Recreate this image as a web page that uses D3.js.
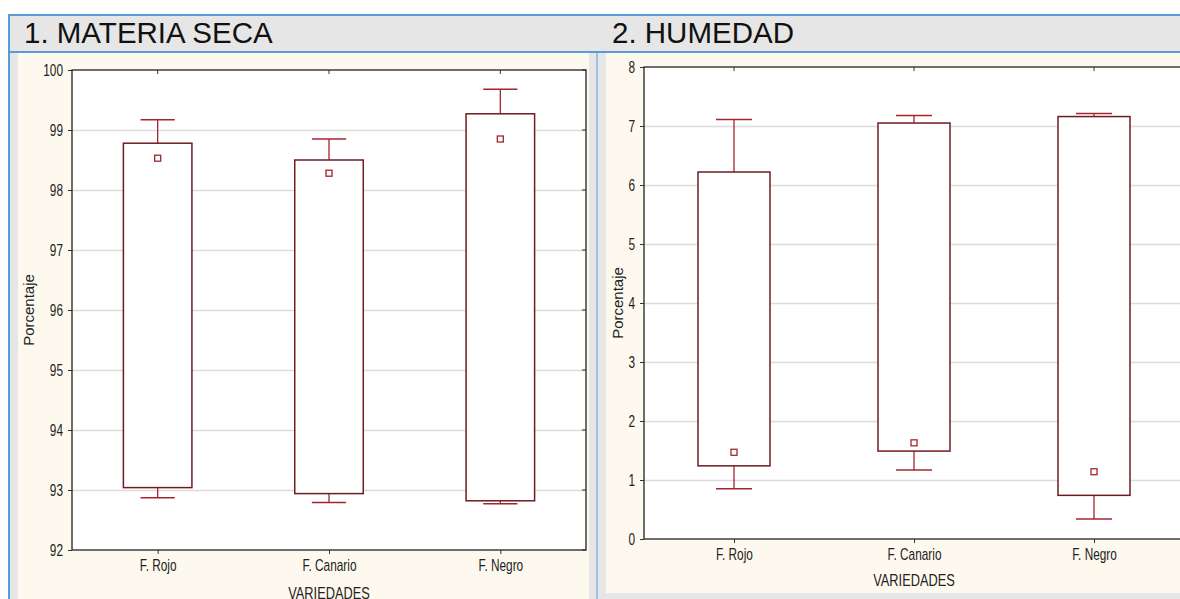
<!DOCTYPE html>
<html>
<head>
<meta charset="utf-8">
<script src="https://cdn.jsdelivr.net/npm/d3@7"></script>
<style>
  body { margin: 0; background: #fff; }
  svg { display: block; }
  .tick text { font-family: "Liberation Sans", Arial, sans-serif; font-size: 16px; fill: #222; }
</style>
</head>
<body>
<script>
// categories shared by both panels
const categories = ["F. Rojo", "F. Canario", "F. Negro"];

// 1. MATERIA SECA (%)
const msWhiskerHigh = [99.17, 98.85, 99.68];
const msBoxHigh     = [98.78, 98.50, 99.27];
const msMean        = [98.53, 98.28, 98.85];
const msBoxLow      = [93.04, 92.94, 92.82];
const msWhiskerLow  = [92.87, 92.79, 92.77];
const msTicks       = [92, 93, 94, 95, 96, 97, 98, 99, 100];

// 2. HUMEDAD (%)
const huWhiskerHigh = [7.11, 7.18, 7.21];
const huBoxHigh     = [6.22, 7.05, 7.16];
const huMean        = [1.47, 1.63, 1.14];
const huBoxLow      = [1.24, 1.49, 0.74];
const huWhiskerLow  = [0.85, 1.17, 0.34];
const huTicks       = [0, 1, 2, 3, 4, 5, 6, 7, 8];

const W = 1180, H = 599;
const svg = d3.select("body").append("svg").attr("width", W).attr("height", H);

svg.append("rect").attr("width", W).attr("height", H).attr("fill", "#fff");
// grey frame + title bar
svg.append("rect").attr("x", 9).attr("y", 15).attr("width", W).attr("height", H)
  .attr("fill", "#e6e6e6").attr("stroke", "#5b9bd5").attr("stroke-width", 2);
svg.append("line").attr("x1", 9).attr("x2", W).attr("y1", 52).attr("y2", 52)
  .attr("stroke", "#5b9bd5").attr("stroke-width", 2);
svg.append("line").attr("x1", 597).attr("x2", 597).attr("y1", 53).attr("y2", H)
  .attr("stroke", "#9fc3e7").attr("stroke-width", 2);

// cream panels
svg.append("rect").attr("x", 18).attr("y", 53).attr("width", 571).attr("height", H - 53).attr("fill", "#fef9ef");
svg.append("rect").attr("x", 606).attr("y", 53).attr("width", W - 606).attr("height", 593 - 53).attr("fill", "#fef9ef");

const titleFont = "'Liberation Sans', Arial, sans-serif";
svg.append("text").attr("x", 24).attr("y", 43).attr("font-family", titleFont)
  .attr("font-size", 29.5).attr("fill", "#111").text("1. MATERIA SECA");
svg.append("text").attr("x", 612).attr("y", 43).attr("font-family", titleFont)
  .attr("font-size", 29.5).attr("fill", "#111").text("2. HUMEDAD");

function narrowText(sel, k) {
  // squeeze horizontally around the text's own x anchor (no Arial Narrow here)
  sel.each(function () {
    const t = d3.select(this);
    const x = +t.attr("x") || 0;
    t.attr("x", x / k).attr("transform", `scale(${k},1)`);
  });
}

function drawPanel(o) {
  const g = svg.append("g");
  const x = d3.scalePoint().domain(categories).range([o.x0, o.x1]).padding(0.5);
  const y = d3.scaleLinear().domain(o.domain).range([o.y1, o.y0]);
  const step = x.step();
  const bw = step * 0.4, cw = step * 0.2;

  g.append("rect").attr("x", o.x0).attr("y", o.y0).attr("width", o.x1 - o.x0).attr("height", o.y1 - o.y0)
    .attr("fill", "#fff");

  // grid
  g.selectAll(".grid").data(o.ticks.slice(1, -1)).join("line")
    .attr("x1", o.x0).attr("x2", o.x1)
    .attr("y1", d => y(d) + 0.5).attr("y2", d => y(d) + 0.5)
    .attr("stroke", "#dcdcdc").attr("stroke-width", 1.5);

  // y axis
  const ya = g.append("g").attr("transform", `translate(${o.x0},0)`)
    .call(d3.axisLeft(y).tickValues(o.ticks).tickSize(4).tickPadding(5).tickFormat(d3.format("d")));
  ya.select(".domain").remove();
  ya.selectAll(".tick line").attr("stroke", "#333");
  ya.selectAll(".tick text").call(narrowText, 0.74);

  // right-edge ticks
  g.selectAll(".rt").data(o.ticks).join("line")
    .attr("x1", o.x1 - 4).attr("x2", o.x1)
    .attr("y1", d => y(d)).attr("y2", d => y(d)).attr("stroke", "#333");

  // x axis
  const xa = g.append("g").attr("transform", `translate(0,${o.y1})`)
    .call(d3.axisBottom(x).tickSize(4).tickPadding(6));
  xa.select(".domain").remove();
  xa.selectAll(".tick line").attr("stroke", "#333");
  xa.selectAll(".tick text").call(narrowText, 0.74);
  g.selectAll(".tt").data(categories).join("line")
    .attr("x1", d => x(d)).attr("x2", d => x(d))
    .attr("y1", o.y0).attr("y2", o.y0 + 4).attr("stroke", "#333");

  // frame
  g.append("rect").attr("x", o.x0).attr("y", o.y0).attr("width", o.x1 - o.x0).attr("height", o.y1 - o.y0)
    .attr("fill", "none").attr("stroke", "#222").attr("stroke-width", 1.3);

  const whiskerColor = "#a3262c", boxColor = "#6e1c22";
  categories.forEach((c, i) => {
    const cx = x(c);
    // whiskers
    [[o.boxHigh[i], o.whHigh[i]], [o.boxLow[i], o.whLow[i]]].forEach(([a, b]) => {
      g.append("line").attr("x1", cx).attr("x2", cx).attr("y1", y(a)).attr("y2", y(b))
        .attr("stroke", whiskerColor).attr("stroke-width", 1.3);
      g.append("line").attr("x1", cx - cw / 2).attr("x2", cx + cw / 2).attr("y1", y(b)).attr("y2", y(b))
        .attr("stroke", whiskerColor).attr("stroke-width", 1.5);
    });
    // box
    g.append("rect").attr("x", cx - bw / 2).attr("y", y(o.boxHigh[i]))
      .attr("width", bw).attr("height", y(o.boxLow[i]) - y(o.boxHigh[i]))
      .attr("fill", "#fff").attr("stroke", boxColor).attr("stroke-width", 1.5);
    // mean marker
    g.append("rect").attr("x", cx - 3).attr("y", y(o.mean[i]) - 3).attr("width", 6).attr("height", 6)
      .attr("fill", "#fff").attr("stroke", whiskerColor).attr("stroke-width", 1.3);
  });

  g.append("text").attr("transform", `translate(${o.ylabX},${(o.y0 + o.y1) / 2}) rotate(-90)`)
    .attr("text-anchor", "middle").attr("font-family", "'Liberation Sans', Arial, sans-serif")
    .attr("font-size", 15).attr("fill", "#222").text("Porcentaje");
  g.append("text").attr("x", x(categories[1])).attr("y", o.xlabY)
    .attr("text-anchor", "middle").attr("font-family", "'Liberation Sans', Arial, sans-serif")
    .attr("font-size", 16).attr("fill", "#222").text("VARIEDADES")
    .call(narrowText, 0.8);
}

drawPanel({
  x0: 72, x1: 586, y0: 70, y1: 550, domain: [92, 100], ticks: msTicks,
  whHigh: msWhiskerHigh, boxHigh: msBoxHigh, mean: msMean, boxLow: msBoxLow, whLow: msWhiskerLow,
  ylabX: 34, xlabY: 599
});
drawPanel({
  x0: 644, x1: 1184, y0: 67, y1: 539, domain: [0, 8], ticks: huTicks,
  whHigh: huWhiskerHigh, boxHigh: huBoxHigh, mean: huMean, boxLow: huBoxLow, whLow: huWhiskerLow,
  ylabX: 623, xlabY: 586
});
</script>
</body>
</html>
